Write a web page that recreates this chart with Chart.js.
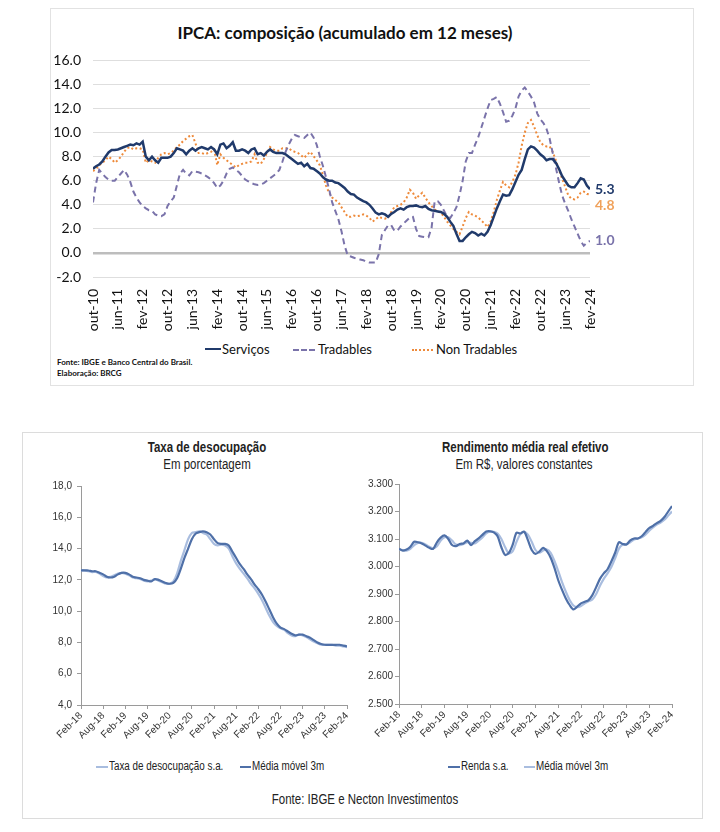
<!DOCTYPE html>
<html>
<head>
<meta charset="utf-8">
<script src="https://cdn.jsdelivr.net/npm/chart.js@4.4.1/dist/chart.umd.min.js"></script>
<style>
  body { margin: 0; width: 720px; height: 832px; background: #fff; position: relative; overflow: hidden; }
  .abs { position: absolute; white-space: nowrap; }
  canvas { position: absolute; }
  .cal { font-family: Lato, "Open Sans", sans-serif; color: #111; }
  .nar { font-family: "Liberation Sans", Arial, sans-serif; color: #222; transform: scaleX(0.82); }
  .narL { transform-origin: left center; }
  .narC { transform-origin: center center; }
  .swatch { position: absolute; height: 0; }
</style>
</head>
<body>
<!-- top panel -->
<div class="abs" style="left:50px;top:8px;width:642px;height:376px;border:1px solid #e2e2e2;"></div>
<div class="abs cal" style="left:120px;width:450px;top:22px;text-align:center;font-size:17px;font-weight:bold;">IPCA: composição (acumulado em 12 meses)</div>
<canvas id="ipca" width="640" height="300" style="left:50px;top:40px;"></canvas>

<div class="swatch" style="left:205px;top:348px;width:16px;border-top:2.5px solid #203a6b;"></div>
<div class="abs cal" style="left:222px;top:341px;font-size:13px;">Serviços</div>
<div class="swatch" style="left:293px;top:349px;width:22px;border-top:2px dashed #7a73aa;"></div>
<div class="abs cal" style="left:318px;top:341px;font-size:13px;">Tradables</div>
<div class="swatch" style="left:412px;top:349px;width:21px;border-top:2px dotted #ee8a3a;"></div>
<div class="abs cal" style="left:436px;top:341px;font-size:13px;">Non Tradables</div>
<div class="abs cal" style="left:57px;top:357px;font-size:8px;font-weight:bold;">Fonte: IBGE e Banco Central do Brasil.</div>
<div class="abs cal" style="left:57px;top:368px;font-size:8px;font-weight:bold;">Elaboração: BRCG</div>

<!-- bottom panel -->
<div class="abs" style="left:22px;top:432px;width:679px;height:385px;border:1px solid #dcdcdc;"></div>
<div class="abs nar narC" style="left:107px;width:200px;top:439px;text-align:center;font-size:14px;font-weight:bold;">Taxa de desocupação</div>
<div class="abs nar narC" style="left:107px;width:200px;top:456px;text-align:center;font-size:14px;">Em porcentagem</div>
<div class="abs nar narC" style="left:424px;width:200px;top:439px;text-align:center;font-size:14px;font-weight:bold;">Rendimento média real efetivo</div>
<div class="abs nar narC" style="left:424px;width:200px;top:456px;text-align:center;font-size:14px;">Em R$, valores constantes</div>
<canvas id="desoc" width="335" height="270" style="left:22px;top:475px;"></canvas>
<canvas id="renda" width="322" height="270" style="left:360px;top:474px;"></canvas>

<div class="swatch" style="left:96px;top:766px;width:12px;border-top:2px solid #a9bddf;"></div>
<div class="abs nar narL" style="left:109px;top:759px;font-size:12px;">Taxa de desocupação s.a.</div>
<div class="swatch" style="left:240px;top:766px;width:11px;border-top:2px solid #4f70a8;"></div>
<div class="abs nar narL" style="left:252px;top:759px;font-size:12px;">Média móvel 3m</div>
<div class="swatch" style="left:448px;top:766px;width:12px;border-top:2px solid #4f70a8;"></div>
<div class="abs nar narL" style="left:461px;top:759px;font-size:12px;">Renda s.a.</div>
<div class="swatch" style="left:524px;top:766px;width:11px;border-top:2px solid #a9bddf;"></div>
<div class="abs nar narL" style="left:536px;top:759px;font-size:12px;">Média móvel 3m</div>
<div class="abs nar narC" style="left:170px;width:390px;top:791px;text-align:center;font-size:14px;">Fonte: IBGE e Necton Investimentos</div>

<script>
// ---- IPCA (out-10 .. fev-24, monthly) ----
const ipcaTicks = ["out-10","jun-11","fev-12","out-12","jun-13","fev-14","out-14","jun-15","fev-16","out-16","jun-17",
                   "fev-18","out-18","jun-19","fev-20","out-20","jun-21","fev-22","out-22","jun-23","fev-24"];
const servicos = [
  7.0, 7.2, 7.35, 7.6, 8.0, 8.35, 8.55, 8.55, 8.6, 8.7,
  8.8, 8.9, 9.0, 8.95, 9.1, 9.0, 9.25, 8.0, 7.7, 8.0,
  7.7, 7.5, 7.9, 7.9, 7.9, 8.0, 8.3, 8.7, 8.6, 8.5,
  8.2, 8.5, 8.7, 8.5, 8.7, 8.8, 8.7, 8.6, 8.8, 8.6,
  8.2, 9.0, 9.1, 8.7, 8.9, 9.2, 8.5, 8.5, 8.6, 8.5,
  8.3, 8.6, 8.7, 8.2, 8.3, 8.1, 8.4, 8.6, 8.4, 8.3,
  8.3, 8.3, 8.2, 8.0, 7.8, 7.6, 7.4, 7.5, 7.2, 7.4,
  7.05, 7.0, 6.8, 6.6, 6.3, 6.1, 6.0, 6.0, 5.85, 5.8,
  5.6, 5.4, 5.1, 4.9, 4.85, 4.6, 4.45, 4.3, 4.2, 4.0,
  3.7, 3.35, 3.2, 3.3, 3.2, 3.0, 3.25, 3.4, 3.6, 3.7,
  3.6, 3.8, 3.9, 3.9, 3.95, 3.85, 3.8, 3.9, 3.65, 3.55,
  3.5, 3.45, 3.4, 3.25, 3.0, 2.6, 2.25, 1.6, 1.0, 1.0,
  1.3, 1.55, 1.75, 1.65, 1.45, 1.6, 1.45, 1.75, 2.3, 3.0,
  3.7, 4.3, 4.85, 4.75, 4.8, 5.3, 5.9, 6.5, 6.9, 7.8,
  8.6, 8.85, 8.75, 8.5, 8.2, 8.0, 7.7, 7.8, 7.8, 7.5,
  7.0, 6.4, 6.0, 5.6, 5.45, 5.45, 5.8, 6.2, 6.1, 5.6,
  5.3
];
const tradables = [
  4.2, 5.8, 6.9, 6.6, 6.3, 6.1, 6.0, 6.0, 6.3, 6.6,
  6.9, 6.5, 5.9, 5.1, 4.6, 4.2, 3.9, 3.7, 3.55, 3.5,
  3.2, 3.1, 3.05, 3.2, 3.9, 4.3, 4.6, 5.6, 6.6, 6.9,
  6.6, 6.45, 6.8, 6.75, 6.7, 6.6, 6.45, 6.3, 6.1, 5.8,
  5.4, 5.6, 6.0, 6.6, 7.0, 7.1, 6.9, 6.7, 6.4, 6.1,
  5.95, 5.8, 5.7, 5.65, 5.7, 5.8, 6.0, 6.2, 6.4, 6.6,
  6.9, 7.6, 8.4, 9.0, 9.5, 9.8, 9.7, 9.6, 9.55, 9.8,
  10.0, 9.6, 9.0, 8.05, 7.25, 6.3, 5.3, 4.2, 3.5, 2.8,
  1.8, 0.6, -0.2, -0.3, -0.4, -0.5, -0.55, -0.6, -0.75, -0.8,
  -0.8, -0.8, -0.1, 1.5, 1.9, 2.3, 2.3, 1.85, 1.85, 2.2,
  2.45, 2.7, 2.95, 3.0, 2.0, 1.4, 1.35, 1.3, 1.3, 2.1,
  4.3, 4.3, 4.0, 3.5, 3.0, 2.9, 3.3, 3.8, 4.8, 6.0,
  7.6, 8.3, 8.3, 9.0, 9.6, 10.4, 11.2, 12.0, 12.7, 12.8,
  12.95, 12.4, 11.7, 10.9, 11.0, 11.4, 12.0, 13.0, 13.5, 13.75,
  13.4, 13.0, 12.5, 11.6, 11.1, 10.8, 10.3, 9.5, 8.3, 7.1,
  5.9, 4.8, 4.1, 3.5, 2.8, 2.2, 1.6, 1.0, 0.6, 0.85,
  1.0
];
const nonTradables = [
  6.8, 7.0, 7.3, 7.5, 7.7, 8.0, 7.8, 7.5, 7.7, 8.0,
  8.4, 8.7, 8.8, 8.6, 8.7, 8.7, 8.6, 7.5, 7.7, 7.6,
  7.5, 7.9, 8.2, 8.3, 8.2, 8.3, 8.5, 8.8, 9.0, 9.3,
  9.5, 9.7, 9.8, 9.1, 8.3, 8.3, 8.2, 8.3, 8.4, 8.6,
  7.3, 8.2, 7.9, 7.7, 7.5, 7.3, 7.1, 7.3, 7.4, 7.5,
  7.5, 7.6, 8.2, 7.5, 7.4, 7.8, 8.3, 8.8, 8.6, 8.5,
  8.5, 8.7, 8.7, 8.7, 8.5, 8.4, 8.3, 8.1, 7.9, 8.2,
  8.4, 8.05, 7.7, 7.3, 6.5, 5.6, 5.0, 4.6, 4.4, 4.2,
  3.8, 3.4, 3.0, 3.0, 3.1, 3.05, 3.1, 3.2, 3.1, 2.9,
  2.6, 2.8, 3.0, 2.9, 2.85, 2.95, 3.4, 3.8, 3.9, 4.0,
  4.2, 4.6, 5.25, 5.0, 4.5, 4.8, 5.0, 4.6, 4.2, 3.9,
  3.6, 3.45, 3.35, 3.0, 2.6, 2.3, 2.0, 1.75, 1.55, 2.2,
  2.9, 3.4, 3.2, 3.1, 2.95, 2.7, 2.45, 2.15, 2.6, 3.4,
  4.4, 5.2, 5.9, 5.6, 5.45, 5.9, 6.5, 7.5, 8.9, 10.0,
  10.8, 11.05, 10.5, 9.8, 9.2, 8.95, 8.85, 8.85, 8.4, 7.7,
  6.9, 6.2, 5.5, 4.8, 4.5, 4.45, 4.6, 5.0, 5.1, 4.9,
  4.85
];
const endLabels = ["5.3", "1.0", "4.8"];

// ---- Mercado de trabalho (Feb-18 .. Feb-24, monthly) ----
const monthTicks = ["Feb-18","Aug-18","Feb-19","Aug-19","Feb-20","Aug-20","Feb-21","Aug-21","Feb-22","Aug-22","Feb-23","Aug-23","Feb-24"];
const desocupSA = [
  12.6, 12.6, 12.55, 12.5, 12.5, 12.4, 12.25, 12.15, 12.2, 12.3,
  12.4, 12.45, 12.4, 12.3, 12.15, 12.1, 12.05, 11.95, 11.9, 11.95,
  12.05, 11.95, 11.85, 11.75, 11.75, 11.9, 12.4, 13.2, 13.9, 14.6,
  15.0, 15.05, 15.1, 15.0, 14.9, 14.6, 14.3, 14.2, 14.25, 14.2,
  14.0, 13.5, 13.05, 12.7, 12.4, 12.1, 11.75, 11.45, 11.1, 10.7,
  10.2, 9.7, 9.3, 9.05, 8.9, 8.8, 8.6, 8.45, 8.4, 8.5,
  8.45, 8.35, 8.2, 8.05, 7.95, 7.85, 7.85, 7.85, 7.85, 7.8,
  7.8, 7.75, 7.7
];
const desocupMM = [
  12.6, 12.6, 12.6, 12.55, 12.55, 12.45, 12.35, 12.2, 12.15, 12.2,
  12.35, 12.45, 12.45, 12.35, 12.2, 12.15, 12.1, 12.0, 11.95, 11.9,
  12.05, 12.0, 11.9, 11.8, 11.75, 11.8, 12.1, 12.7, 13.4, 14.0,
  14.6, 14.95, 15.05, 15.1, 15.05, 14.9, 14.6, 14.35, 14.3, 14.3,
  14.2, 13.8, 13.4, 13.0, 12.7, 12.35, 12.05, 11.7, 11.4, 11.05,
  10.6, 10.1, 9.6, 9.2, 8.95, 8.85, 8.7, 8.55, 8.45, 8.5,
  8.5, 8.4, 8.3, 8.15, 8.0, 7.9, 7.85, 7.85, 7.85, 7.85,
  7.85, 7.8, 7.75
];
const rendaSA = [
  3065, 3058, 3062, 3072, 3090, 3088, 3084, 3076, 3068, 3064,
  3088, 3105, 3113, 3100, 3078, 3074, 3082, 3084, 3094, 3078,
  3092, 3102, 3115, 3127, 3128, 3124, 3110, 3070, 3042, 3050,
  3080, 3123, 3120, 3127, 3096, 3060, 3046, 3054, 3068, 3056,
  3032, 2995, 2950, 2915, 2884, 2860, 2844, 2854, 2866, 2872,
  2878, 2896, 2925, 2955, 2975, 2990, 3018, 3050, 3088, 3082,
  3080, 3095, 3102, 3102, 3110, 3125, 3140, 3148, 3158, 3166,
  3180, 3200, 3220
];
const rendaMM = [
  3062, 3060, 3058, 3064, 3078, 3086, 3086, 3080, 3072, 3066,
  3074, 3094, 3106, 3106, 3094, 3080, 3078, 3082, 3088, 3086,
  3084, 3094, 3106, 3120, 3128, 3126, 3120, 3100, 3070, 3048,
  3056, 3090, 3118, 3126, 3116, 3090, 3060, 3050, 3058, 3062,
  3050, 3020, 2983, 2943, 2908, 2878, 2858, 2852, 2856, 2866,
  2874, 2880, 2900, 2930, 2955, 2975, 2998, 3030, 3065, 3080,
  3082, 3088, 3098, 3102, 3106, 3116, 3130, 3142, 3152, 3160,
  3170, 3185, 3200
];

const toXY = arr => arr.map((v, i) => ({ x: i, y: v }));
const CAL = "Lato, 'Open Sans', sans-serif";
const NAR = "'Liberation Sans', Arial, sans-serif";

// labels at the end of the IPCA lines
const endLabelPlugin = {
  id: "endLabels",
  afterDatasetsDraw(chart) {
    const ctx = chart.ctx;
    const offsets = [0, 0, 11];
    ctx.save();
    ctx.font = "bold 14px " + CAL;
    ctx.textBaseline = "middle";
    chart.data.datasets.forEach((ds, k) => {
      const meta = chart.getDatasetMeta(k);
      const pt = meta.data[meta.data.length - 1];
      ctx.fillStyle = ds.labelColor;
      ctx.fillText(endLabels[k], chart.chartArea.right + 5, pt.y + offsets[k]);
    });
    ctx.restore();
  }
};

new Chart(document.getElementById("ipca"), {
  type: "line",
  data: {
    datasets: [
      { label: "Serviços", data: toXY(servicos), borderColor: "#203a6b", labelColor: "#203a6b", borderWidth: 2.5, pointRadius: 0 },
      { label: "Tradables", data: toXY(tradables), borderColor: "#7a73aa", labelColor: "#7a73aa", borderWidth: 2, borderDash: [6, 4], pointRadius: 0 },
      { label: "Non Tradables", data: toXY(nonTradables), borderColor: "#ee8a3a", labelColor: "#f0a25c", borderWidth: 2, borderDash: [2, 2.5], pointRadius: 0 }
    ]
  },
  options: {
    responsive: false,
    animation: false,
    layout: { padding: { top: 12, right: 100, left: 0, bottom: 0 } },
    plugins: { legend: { display: false }, tooltip: { enabled: false } },
    scales: {
      x: {
        type: "linear", min: 0, max: 160,
        afterFit: s => { s.height = 63; },
        grid: { display: false },
        border: { display: false },
        ticks: {
          stepSize: 8, autoSkip: false, minRotation: 90, maxRotation: 90, padding: 4,
          color: "#111", font: { family: CAL, size: 14 },
          callback: v => (v % 8 === 0 ? ipcaTicks[v / 8] : "")
        }
      },
      y: {
        min: -2, max: 16,
        afterFit: s => { s.width = 43; },
        border: { display: false },
        grid: {
          drawTicks: false,
          color: c => (c.tick && c.tick.value === 0 ? "#bdbdbd" : "#dedede"),
          lineWidth: c => (c.tick && c.tick.value === 0 ? 2.5 : 1)
        },
        ticks: { stepSize: 2, padding: 12, color: "#111", font: { family: CAL, size: 14 }, callback: v => v.toFixed(1) }
      }
    }
  },
  plugins: [endLabelPlugin]
});

function smallChart(id, series, yMin, yMax, yStep, fmt, yWidth, yPad) {
  new Chart(document.getElementById(id), {
    type: "line",
    data: {
      datasets: series.map(s => ({ data: toXY(s.values), borderColor: s.color, borderWidth: 2.2, pointRadius: 0, tension: 0.3 }))
    },
    options: {
      responsive: false,
      animation: false,
      layout: { padding: { top: 10, right: 10, left: 0, bottom: 0 } },
      plugins: { legend: { display: false }, tooltip: { enabled: false } },
      scales: {
        x: {
          type: "linear", min: 0, max: 72,
          afterFit: s => { s.height = 40; },
          border: { display: true, color: "#9a9a9a" },
          grid: { drawOnChartArea: false, drawTicks: true, tickLength: 4, color: "#9a9a9a" },
          ticks: {
            stepSize: 6, autoSkip: false, minRotation: 45, maxRotation: 45, padding: 1,
            color: "#333", font: { family: NAR, size: 10 },
            callback: v => monthTicks[v / 6]
          }
        },
        y: {
          min: yMin, max: yMax,
          afterFit: s => { s.width = yWidth; },
          border: { display: true, color: "#9a9a9a" },
          grid: { drawOnChartArea: false, drawTicks: true, tickLength: 4, color: "#9a9a9a" },
          ticks: { stepSize: yStep, padding: yPad, color: "#333", font: { family: NAR, size: 10 }, callback: fmt }
        }
      }
    }
  });
}

smallChart("desoc",
  [{ values: desocupMM, color: "#4f70a8" }, { values: desocupSA, color: "#a9bddf" }],
  4, 18, 2, v => v.toFixed(1).replace(".", ","), 59, 5);

smallChart("renda",
  [{ values: rendaSA, color: "#4f70a8" }, { values: rendaMM, color: "#a9bddf" }],
  2500, 3300, 100, v => (v / 1000).toFixed(3), 39, 2);
</script>
</body>
</html>
